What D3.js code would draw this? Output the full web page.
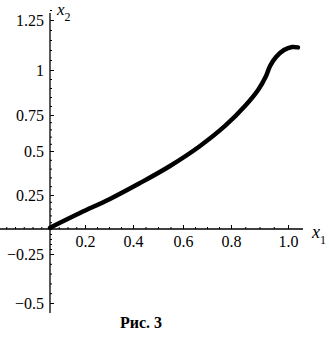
<!DOCTYPE html>
<html>
<head>
<meta charset="utf-8">
<script src="https://cdn.jsdelivr.net/npm/d3@7"></script>
<style>
body { margin: 0; background: #fff; }
svg text { font-family: "Liberation Serif", "Times New Roman", serif !important; fill: #000; }
</style>
</head>
<body>
<svg id="chart" width="329" height="348"></svg>
<script>
// curve x1 -> x2
var x1Vals = [0, 0.171, 0.304, 0.428, 0.548, 0.671, 0.775, 0.849, 0.895, 0.923, 0.937, 0.958, 0.986, 1.014, 1.035];
var x2Vals = [0.01, 0.118, 0.221, 0.318, 0.415, 0.535, 0.674, 0.8, 0.889, 0.967, 1.02, 1.065, 1.1, 1.115, 1.113];

var xTicks = [0.2, 0.4, 0.6, 0.8, 1.0];
var xTickLabels = ["0.2", "0.4", "0.6", "0.8", "1.0"];
var yTicks = [-0.5, -0.25, 0.25, 0.5, 0.75, 1, 1.25];
var yTickLabels = ["\u22120.5", "\u22120.25", "0.25", "0.5", "0.75", "1", "1.25"];

var svg = d3.select("#chart");

// the scanned figure is a bit uneven, so use piecewise scales
var x = d3.scaleLinear()
    .domain([0, 0.2, 0.4, 0.6, 0.8, 1.0])
    .range([50, 85, 133, 183, 231, 288]);

var y = d3.scaleLinear()
    .domain([-0.5, -0.25, 0, 0.25, 0.5, 0.75, 1, 1.25])
    .range([303, 254, 229, 195, 151, 115, 70, 20]);

var x0 = x(0), y0 = y(0);

// axis lines
svg.append("line")
    .attr("x1", 0).attr("x2", 303)
    .attr("y1", y0).attr("y2", y0)
    .attr("stroke", "#000").attr("stroke-width", 1.3);
svg.append("line")
    .attr("x1", x0).attr("x2", x0)
    .attr("y1", 13).attr("y2", 313)
    .attr("stroke", "#000").attr("stroke-width", 1.3);

// minor ticks
var yMinor = d3.range(-0.5, 1.3001, 0.05);
var xMinor = d3.range(-0.25, 1.0501, 0.05);

svg.append("g")
    .attr("transform", `translate(${x0},0)`)
    .call(d3.axisLeft(y).tickValues(yMinor).tickSizeInner(-2).tickSizeOuter(0).tickFormat(""))
    .call(g => g.select(".domain").remove());

svg.append("g")
    .attr("transform", `translate(0,${y0})`)
    .call(d3.axisBottom(x).tickValues(xMinor.filter(d => x(d) > 1 && x(d) < 302)).tickSizeInner(-2).tickSizeOuter(0).tickFormat(""))
    .call(g => g.select(".domain").remove());

// major ticks with labels
var yAxis = svg.append("g")
    .attr("transform", `translate(${x0},0)`)
    .attr("font-family", "Liberation Serif")
    .attr("font-size", 16)
    .call(d3.axisLeft(y).tickValues(yTicks).tickSizeInner(-4).tickSizeOuter(0).tickPadding(6)
        .tickFormat((d, i) => yTickLabels[i]));
yAxis.attr("font-family", "Liberation Serif").attr("font-size", 16);
yAxis.select(".domain").remove();
yAxis.selectAll("line").attr("stroke", "#000");

var xAxis = svg.append("g")
    .attr("transform", `translate(0,${y0})`)
    .call(d3.axisBottom(x).tickValues(xTicks).tickSizeInner(-4).tickSizeOuter(0).tickPadding(7)
        .tickFormat((d, i) => xTickLabels[i]));
xAxis.attr("font-family", "Liberation Serif").attr("font-size", 16);
xAxis.select(".domain").remove();
xAxis.selectAll("line").attr("stroke", "#000");

// curve
var pts = x1Vals.map((d, i) => [d, x2Vals[i]]);
var line = d3.line()
    .x(d => x(d[0]))
    .y(d => y(d[1]))
    .curve(d3.curveCatmullRom);

svg.append("path")
    .datum(pts)
    .attr("d", line)
    .attr("fill", "none")
    .attr("stroke", "#000")
    .attr("stroke-width", 4.5)
    .attr("stroke-linecap", "round");

// axis names
var lbl2 = svg.append("text")
    .attr("x", 57).attr("y", 15)
    .style("font-size", "17px").style("font-style", "italic");
lbl2.append("tspan").text("x");
lbl2.append("tspan").attr("dy", 6).style("font-size", "12px").style("font-style", "normal").text("2");

var lbl1 = svg.append("text")
    .attr("x", 312).attr("y", 238)
    .style("font-size", "18px").style("font-style", "italic");
lbl1.append("tspan").text("x");
lbl1.append("tspan").attr("dy", 6).style("font-size", "12px").style("font-style", "normal").text("1");

// caption
svg.append("text")
    .attr("x", 141).attr("y", 328)
    .attr("text-anchor", "middle")
    .style("font-size", "16px").style("font-weight", "bold")
    .text("Рис. 3");
</script>
</body>
</html>
